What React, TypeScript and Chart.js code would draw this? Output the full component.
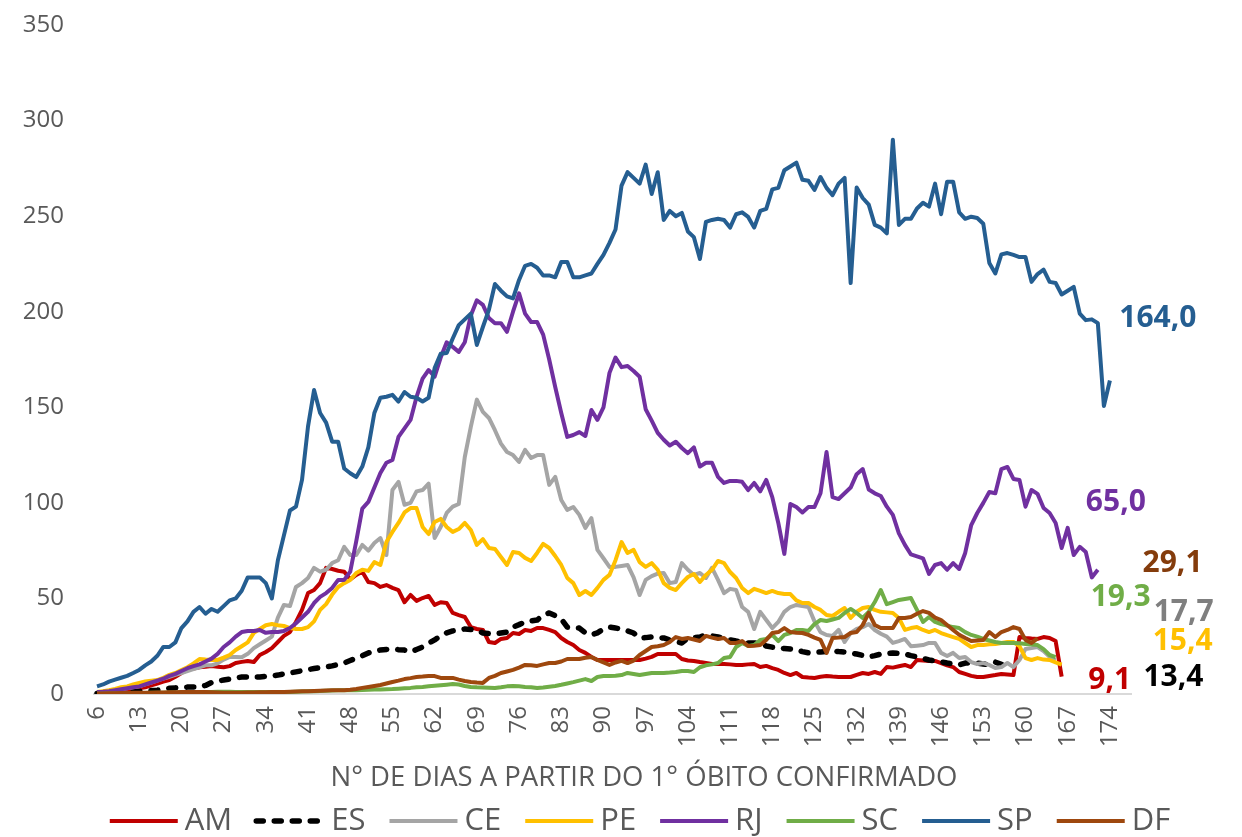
import React, { useEffect, useRef } from "react";
import { Chart, registerables } from "chart.js";

Chart.register(...registerables);

// ---------------- categories / ticks ----------------
const DAYS = [
  6, 7, 8, 9, 10, 11, 12, 13, 14, 15,
  16, 17, 18, 19, 20, 21, 22, 23, 24, 25,
  26, 27, 28, 29, 30, 31, 32, 33, 34, 35,
  36, 37, 38, 39, 40, 41, 42, 43, 44, 45,
  46, 47, 48, 49, 50, 51, 52, 53, 54, 55,
  56, 57, 58, 59, 60, 61, 62, 63, 64, 65,
  66, 67, 68, 69, 70, 71, 72, 73, 74, 75,
  76, 77, 78, 79, 80, 81, 82, 83, 84, 85,
  86, 87, 88, 89, 90, 91, 92, 93, 94, 95,
  96, 97, 98, 99, 100, 101, 102, 103, 104, 105,
  106, 107, 108, 109, 110, 111, 112, 113, 114, 115,
  116, 117, 118, 119, 120, 121, 122, 123, 124, 125,
  126, 127, 128, 129, 130, 131, 132, 133, 134, 135,
  136, 137, 138, 139, 140, 141, 142, 143, 144, 145,
  146, 147, 148, 149, 150, 151, 152, 153, 154, 155,
  156, 157, 158, 159, 160, 161, 162, 163, 164, 165,
  166, 167, 168, 169, 170, 171, 172, 173, 174, 175,
  176, 177,
];
const TICK_DAYS = [6, 13, 20, 27, 34, 41, 48, 55, 62, 69, 76, 83, 90, 97, 104, 111, 118, 125, 132, 139, 146, 153, 160, 167, 174];
const Y_MIN = 0;
const Y_MAX = 350;
const Y_STEP = 50;

// ---------------- series (values from day 6) ----------------
const AM = [
  0.5, 0.7, 1, 1.2, 1.5, 2, 2.5, 3, 3.5, 4.5,
  5.5, 6.5, 7.3, 9, 11, 12.6, 13.3, 14, 14.3, 14.6,
  14.3, 14, 14.6, 16.2, 16.8, 17.3, 16.7, 20.4, 22, 24,
  27.2, 30.4, 32.4, 37.7, 44, 52.8, 54.4, 58, 66, 65.4,
  64.5, 64, 60, 62.3, 64, 58.6, 58, 56, 57, 55.5,
  54.4, 48, 51.8, 48.7, 50.2, 51.3, 46.6, 48, 47.6, 42.4,
  41.3, 40.3, 35, 34, 33.5, 27.2, 26.7, 28.8, 29.3, 31.9,
  31.4, 33.5, 33, 34.5, 34.5, 33.5, 32.4, 29.3, 27.2, 25.6,
  23, 21.5, 19.4, 17.8, 17.8, 17.8, 17.8, 17.8, 17.8, 17.8,
  17.8, 18.5, 19.4, 20.9, 20.9, 20.9, 20.9, 18.3, 17.5, 17.3,
  16.7, 16.2, 15.7, 15.7, 15.7, 15.5, 15.2, 15.2, 15.5, 15.7,
  14.1, 14.7, 13.5, 12.6, 11, 9.9, 11, 8.9, 8.6, 8.4,
  9, 9.4, 9.1, 8.9, 8.9, 8.9, 10, 11, 10.5, 11.5,
  10.5, 14.1, 13.8, 14.5, 15.2, 14.1, 17.8, 17.5, 17.3, 17.3,
  16.2, 15, 14.1, 11.5, 10.5, 9.5, 8.9, 8.9, 9.4, 9.9,
  10.5, 10.2, 9.9, 29.8, 29.3, 29, 28.8, 29.8, 29.3, 27.7,
  9.1,
];

const ES = [
  0.3, 0.4, 0.5, 0.6, 0.8, 1, 1.2, 1.4, 1.6, 1.8,
  2, 2.5, 3, 3.2, 3.4, 3.6, 3.7, 3.7, 4.5, 6,
  6.8, 7.3, 7.8, 8.4, 8.9, 8.9, 8.9, 8.9, 9.2, 9.5,
  9.9, 10.5, 11, 11.6, 12.2, 12.8, 13.3, 13.8, 14.2, 14.7,
  15.5, 16.2, 17.5, 18.8, 20, 21.5, 22.3, 23, 23.3, 23.5,
  23.2, 23, 22, 23.3, 24.6, 26.5, 28.3, 30.5, 32, 33,
  33.5, 34, 33.8, 33.5, 31.9, 31.6, 31.4, 31.9, 32.4, 35,
  36.3, 37.7, 38.2, 38.7, 41.3, 42.4, 41, 39.2, 35, 34.7,
  34.5, 32, 30.9, 32, 34, 35, 34.5, 34, 33, 31.9,
  29.3, 29.5, 29.8, 29.5, 29.3, 28.3, 27.5, 26.7, 29.3, 29.5,
  29.8, 30.9, 30.4, 29.8, 29, 28.3, 27.7, 27.2, 26.7, 26.7,
  26.7, 25.1, 24.5, 24, 23.8, 23.5, 23, 22.2, 21.5, 21.7,
  22, 22.3, 22.5, 22.2, 22, 21.5, 20.9, 20.2, 19.4, 20.1,
  20.9, 21.2, 21.5, 21.2, 20.9, 20.1, 19.4, 18.6, 17.8, 17.3,
  16.8, 16.2, 15.7, 15.2, 16.2, 16.2, 16.2, 15.7, 15.2, 16.7,
  15.5, 13.4,
];

const CE = [
  1, 1.2, 1.5, 2, 2.5, 3, 3.5, 4, 5, 6,
  7, 8, 9, 10, 11, 12, 13, 14, 15, 15,
  16, 18, 19.4, 19.4, 19.2, 21, 24, 26, 28, 30,
  40, 46.6, 46, 56, 58, 60.7, 66, 64, 65, 68.5,
  70, 77, 72.7, 72.7, 78, 75, 79, 81.6, 72.7, 106.7,
  111, 99, 100, 106, 106.7, 110, 81.6, 87.4, 94.7, 98,
  99.4, 124, 139.7, 154, 147.6, 144.4, 138, 131, 126.6, 125,
  121.4, 127.7, 123.5, 125, 125, 109.4, 113.6, 101.5, 96.3, 97.8,
  93.7, 86.9, 92, 75.4, 71, 66.5, 66.5, 67, 67.5, 61,
  51.8, 59.7, 61.7, 63, 63.3, 58, 58.6, 68.5, 65, 62.3,
  63.3, 60.7, 66, 59.7, 52.8, 55, 54.4, 45.5, 43, 34,
  43, 38.7, 34.5, 37.7, 43, 45.5, 46.6, 46, 45.5, 38,
  32.4, 30.9, 30.4, 33.5, 27.2, 32, 34, 35, 36.6, 33.5,
  31.5, 30, 26.7, 27.7, 28.8, 25, 25.3, 25.6, 26.7, 26.7,
  21.5, 19.9, 21.5, 18.8, 19.4, 16.7, 15.7, 16.2, 15.2, 13.6,
  14.1, 16.2, 14.1, 17.8, 23.5, 24, 24.6, 22.5, 19.4, 17.7,
];

const PE = [
  1, 1.5, 2, 2.7, 3.5, 4, 5, 5.8, 6.5, 7,
  7.3, 8.5, 10, 11, 12.5, 14, 16, 18.3, 18, 17.8,
  17.8, 19, 20.4, 23, 25, 27, 32, 34, 36, 36.6,
  36, 35.6, 34.5, 34, 34, 35, 38, 44, 47, 52,
  56, 58, 59.7, 63.3, 65, 64.4, 69, 67.5, 79.5, 84.8,
  89.5, 95, 97.3, 97.3, 87.4, 83.7, 90, 91.6, 87.4, 84.8,
  86.3, 89.5, 85.8, 78, 81, 76.4, 75.9, 71.7, 67.5, 74.3,
  73.8, 71.2, 69.6, 73.8, 78.5, 76.4, 72.2, 67.5, 60.7, 58,
  51.8, 53.9, 51.8, 55.5, 59.7, 62.3, 70, 79.5, 73.8, 75.4,
  69, 66.5, 68.5, 65, 58, 55.5, 54.4, 58, 61.2, 62.8,
  58.6, 62.3, 65, 69.6, 68.5, 63.8, 60.7, 55.5, 52.8, 55,
  53.9, 52.8, 53.9, 52.8, 52.3, 52.3, 49, 47.6, 47.6, 45.5,
  44, 41.3, 40.8, 43, 45, 39.8, 43, 45, 45.5, 44,
  43, 42.7, 42.4, 39.8, 33.5, 34.5, 35, 33.5, 32.4, 33.5,
  31.9, 30.8, 29.8, 28.8, 26.7, 24.6, 25.6, 25.6, 26, 26.2,
  26.7, 27.2, 27.2, 25, 18.8, 17.8, 18.8, 18, 17.8, 16.5,
  15.4,
];

const RJ = [
  1, 1.2, 1.5, 2, 2.5, 3, 3.5, 4, 5, 6,
  7, 8, 9.5, 10.5, 12, 13.5, 14.6, 15.5, 17, 18.5,
  21, 24.6, 27, 30, 32.4, 33, 33, 33.5, 32, 32.4,
  32.4, 33, 34.5, 37, 40, 43, 47.6, 50.8, 52.8, 55.5,
  59.7, 59.7, 64, 80, 97, 100.5, 108, 115.6, 121, 122.4,
  134.5, 139, 143.4, 155.4, 165, 169.5, 166, 176, 184, 181.6,
  179, 184, 198, 206, 203.6, 196.7, 194, 194, 189.5, 200,
  209.6, 199, 194.6, 194.6, 188, 175, 160.6, 147, 134.5, 135.5,
  137, 135, 148.6, 143.4, 150, 168, 176, 171, 171.6, 169,
  166, 149, 143, 136.6, 133, 130, 132, 128.7, 126, 129,
  119, 121, 121, 113.6, 110.4, 111.5, 111.5, 111, 106.7, 110.4,
  106, 112, 103, 89.5, 73.3, 99.4, 97.8, 95, 97.8, 97.8,
  105, 126.6, 103, 102, 105, 108, 115, 117.7, 107, 105,
  103.6, 98, 93.7, 84, 78, 73, 72, 71, 62.8, 67.5,
  68.5, 65, 68.5, 65.4, 73.8, 88.4, 94.7, 100, 105.7, 105,
  117.7, 118.8, 112.5, 112, 98, 106.7, 104.7, 97.3, 94.7, 89.5,
  76.4, 86.9, 72.7, 77, 74.3, 61, 65,
];

const SC = [
  0.1, 0.1, 0.2, 0.2, 0.3, 0.3, 0.4, 0.5, 0.5, 0.6,
  0.6, 0.7, 0.8, 0.8, 0.9, 1, 1, 1, 1.1, 1.1,
  1.2, 1.2, 1.2, 1.1, 1, 1, 1, 1, 1, 1,
  1, 1, 1.1, 1.2, 1.3, 1.4, 1.5, 1.6, 1.7, 1.8,
  1.9, 2, 2, 2, 2.1, 2.2, 2.3, 2.4, 2.5, 2.6,
  2.8, 3, 3.2, 3.5, 3.7, 4, 4.3, 4.6, 4.9, 5.2,
  5, 4.2, 3.7, 3.5, 3.4, 3.3, 3.1, 3.5, 4, 4.2,
  4, 3.7, 3.5, 3.1, 3.4, 3.8, 4.2, 4.8, 5.5, 6.2,
  7, 7.8, 6.8, 8.9, 9.4, 9.4, 9.5, 9.9, 11, 10.5,
  9.9, 10.5, 11, 11, 11, 11.2, 11.5, 12, 12, 11.5,
  14, 15, 15.5, 16.2, 18.8, 19.4, 24.6, 26.7, 25.1, 25.6,
  28.3, 28.8, 30.9, 27.7, 30.9, 31.9, 33.5, 33.5, 33, 36.6,
  38.7, 38.2, 39, 39.8, 42.4, 44.5, 42.4, 39.8, 43, 48.1,
  54.4, 47, 48.1, 49.2, 49.7, 50.2, 44, 37.7, 40.3, 37.7,
  36.6, 35.8, 35, 34.5, 32.4, 30.9, 30, 28.8, 28, 27.2,
  26.7, 26.7, 26.7, 26.5, 26.2, 25.9, 25.6, 23.5, 20.4, 19.3,
];

const SP = [
  4, 5, 6.5, 7.5, 8.5, 9.5, 11, 12.6, 15, 17,
  20, 24.6, 24.6, 27, 34.5, 38, 43, 45.5, 42, 44.5,
  43, 46, 49, 50, 54, 61, 61, 61, 58, 50,
  70, 83, 96, 98, 112, 140, 159, 147, 142, 132,
  132, 118, 115.5, 113.5, 119, 129, 147, 155, 155.5, 156.5,
  153, 158, 155.5, 155, 153, 155, 170.5, 178, 178.4, 186,
  193, 196, 199, 182.6, 192, 201, 214.5, 211, 208, 207,
  216.6, 224, 225, 223, 219, 219, 218, 226, 226, 218,
  218, 219, 220, 225, 229.7, 236, 243, 266, 273, 270,
  267, 277, 261.6, 273, 248, 252.7, 250, 251.7, 242, 239,
  227.6, 247, 248, 248.6, 248, 244, 251, 252, 249.6, 244,
  252.7, 253.8, 264, 264.8, 274, 276, 278, 269, 268.5, 263.7,
  270.5, 264.8, 261, 267, 270, 215, 265, 259.5, 256, 245.4,
  244, 241, 290, 245.4, 248.6, 248.6, 254, 257, 255, 267,
  251, 268, 268, 252, 248.6, 249.7, 249, 246, 225.5, 220,
  230, 230.7, 229.7, 228.6, 228.6, 215.6, 219.7, 222, 215.6, 215,
  209, 211, 213, 199, 195.6, 196, 194, 150.7, 164,
];

const DF = [
  0.3, 0.3, 0.4, 0.4, 0.5, 0.5, 0.6, 0.6, 0.7, 0.7,
  0.8, 0.8, 0.9, 0.9, 1, 1, 1, 1, 1, 0.9,
  0.8, 0.7, 0.7, 0.7, 0.7, 0.8, 0.8, 0.9, 0.9, 1,
  1, 1.1, 1.2, 1.3, 1.4, 1.5, 1.6, 1.7, 1.8, 1.9,
  2, 2, 2.2, 2.6, 3.2, 3.7, 4.2, 4.7, 5.5, 6.3,
  7, 7.8, 8.3, 8.9, 9.1, 9.4, 9.4, 8.4, 8.4, 8.4,
  7.5, 6.8, 6.3, 6, 5.8, 8.4, 9.5, 11, 11.8, 12.6,
  13.8, 15.2, 15, 14.7, 15.5, 16.2, 16.2, 17, 18.3, 18.3,
  18.3, 19, 19.4, 17.8, 16.5, 15.2, 16.5, 17.3, 16.2, 17.5,
  20.4, 22.5, 24.6, 25, 25.6, 27.2, 29.8, 28.8, 29.3, 28.5,
  27.7, 30.4, 29.5, 28.8, 29.3, 26.7, 26.7, 27.7, 25.1, 25.3,
  25.6, 28.3, 31.9, 32.4, 34.5, 32.4, 32, 31.9, 30.9, 29.5,
  28.3, 21.5, 29.3, 29.5, 29.8, 31.9, 32.4, 36.1, 42.4, 36.1,
  34.5, 34.5, 34.5, 39.8, 39.8, 40.3, 42, 43.4, 42.4, 40,
  38.7, 36.1, 33.5, 31, 29.3, 27.7, 28, 28.3, 32.4, 29.8,
  32.4, 33.5, 35, 34, 28.3, 26.7, 29.1,
];

// ---------------- styles ----------------
const SERIES = [
  { label: "AM", data: AM, color: "#C00000", labelColor: "#C00000", width: 4, dash: [] as number[], cap: "butt", labelOffset: [48, 4] },
  { label: "ES", data: ES, color: "#000000", labelColor: "#000000", width: 5.5, dash: [7, 11], cap: "round", labelOffset: [166, 9] },
  { label: "CE", data: CE, color: "#A5A5A5", labelColor: "#7F7F7F", width: 4, dash: [] as number[], cap: "butt", labelOffset: [128, -48] },
  { label: "PE", data: PE, color: "#FFC000", labelColor: "#FFC000", width: 4, dash: [] as number[], cap: "butt", labelOffset: [121, -23] },
  { label: "RJ", data: RJ, color: "#7030A0", labelColor: "#7030A0", width: 4, dash: [] as number[], cap: "butt", labelOffset: [18, -67] },
  { label: "SC", data: SC, color: "#70AD47", labelColor: "#70AD47", width: 4, dash: [] as number[], cap: "butt", labelOffset: [65, -60] },
  { label: "SP", data: SP, color: "#255E91", labelColor: "#255E91", width: 4, dash: [] as number[], cap: "butt", labelOffset: [48, -62] },
  { label: "DF", data: DF, color: "#9E480E", labelColor: "#843C0C", width: 4, dash: [] as number[], cap: "butt", labelOffset: [135, -75] },
];

const X_TITLE = "N° DE DIAS A PARTIR DO 1° ÓBITO CONFIRMADO";
const FONT = "'Open Sans', sans-serif";
const TICK_FONT = { family: FONT, size: 24 };
const AXIS_COLOR = "#595959";
const LEGEND = { size: 31, line: 68, gap: 7, spacing: 24, cx: 640, cy: 821 };
const TITLE_POS = { dx: 31.5, dy: 84, size: 27.5 };
const PLOT = { left: 94, right: 1131, top: 25, bottom: 694, width: 1242, height: 837 };

const endLabelPlugin = {
  id: "endLabels",
  afterDatasetsDraw(chart: any) {
    const ctx = chart.ctx;
    ctx.save();
    ctx.font = `bold 30px ${FONT}`;
    ctx.textAlign = "center";
    ctx.textBaseline = "middle";
    SERIES.forEach((s, i) => {
      const meta = chart.getDatasetMeta(i);
      const last = s.data.length - 1;
      const pt = meta.data[last];
      if (!pt) return;
      const text = s.data[last].toFixed(1).replace(".", ",");
      ctx.fillStyle = s.labelColor;
      ctx.fillText(text, pt.x + s.labelOffset[0], pt.y + s.labelOffset[1]);
    });
    ctx.restore();
  },
};

const xTitlePlugin = {
  id: "xTitle",
  afterDraw(chart: any) {
    const { ctx, chartArea } = chart;
    ctx.save();
    ctx.font = `${TITLE_POS.size}px ${FONT}`;
    ctx.fillStyle = AXIS_COLOR;
    ctx.textAlign = "center";
    ctx.textBaseline = "middle";
    ctx.fillText(X_TITLE, (chartArea.left + chartArea.right) / 2 + TITLE_POS.dx, chartArea.bottom + TITLE_POS.dy);
    ctx.restore();
  },
};

const legendPlugin = {
  id: "lineLegend",
  afterDraw(chart: any) {
    const ctx = chart.ctx;
    const sets = chart.data.datasets;
    ctx.save();
    ctx.font = `${LEGEND.size}px ${FONT}`;
    const widths = sets.map((d: any) => ctx.measureText(d.label).width);
    const total =
      widths.reduce((a: number, w: number) => a + LEGEND.line + LEGEND.gap + w, 0) + LEGEND.spacing * (sets.length - 1);
    let x = LEGEND.cx - total / 2;
    const y = LEGEND.cy;
    sets.forEach((d: any, i: number) => {
      ctx.beginPath();
      ctx.strokeStyle = d.borderColor;
      ctx.lineWidth = d.borderWidth;
      ctx.setLineDash(d.borderDash || []);
      ctx.lineCap = d.borderCapStyle || "butt";
      ctx.moveTo(x, y);
      ctx.lineTo(x + LEGEND.line, y);
      ctx.stroke();
      ctx.setLineDash([]);
      ctx.fillStyle = AXIS_COLOR;
      ctx.textAlign = "left";
      ctx.textBaseline = "middle";
      ctx.fillText(d.label, x + LEGEND.line + LEGEND.gap, y);
      x += LEGEND.line + LEGEND.gap + widths[i] + LEGEND.spacing;
    });
    ctx.restore();
  },
};

export default function App() {
  const canvasRef = useRef<HTMLCanvasElement | null>(null);

  useEffect(() => {
    if (!canvasRef.current) return;

    const chart = new Chart(canvasRef.current, {
      type: "line",
      data: {
        labels: DAYS,
        datasets: SERIES.map((s, i) => ({
          label: s.label,
          data: s.data,
          borderColor: s.color,
          backgroundColor: s.color,
          borderWidth: s.width,
          borderDash: s.dash,
          borderCapStyle: s.cap as any,
          borderJoinStyle: "round" as any,
          pointRadius: 0,
          pointHoverRadius: 0,
          tension: 0,
          fill: false,
          order: SERIES.length - i,
        })),
      },
      options: {
        animation: false,
        responsive: true,
        maintainAspectRatio: false,
        devicePixelRatio: 1,
        layout: { padding: { left: 0, right: PLOT.width - PLOT.right, top: PLOT.top, bottom: 0 } },
        plugins: {
          tooltip: { enabled: false },
          title: { display: false },
          legend: { display: false },
        },
        scales: {
          x: {
            type: "category",
            offset: true,
            grid: { display: false, drawTicks: false },
            border: { display: true, color: "#D9D9D9", width: 2 },
            ticks: {
              autoSkip: false,
              minRotation: 90,
              maxRotation: 90,
              padding: 12,
              color: AXIS_COLOR,
              font: TICK_FONT,
              callback: (_v: any, idx: number) => (TICK_DAYS.includes(DAYS[idx]) ? String(DAYS[idx]) : ""),
            },
            afterFit: (scale: any) => {
              scale.height = PLOT.height - PLOT.bottom;
              scale.paddingLeft = 0;
              scale.paddingRight = 0;
            },
          },
          y: {
            min: Y_MIN,
            max: Y_MAX,
            grid: { display: false, drawTicks: false },
            border: { display: false },
            ticks: { stepSize: Y_STEP, padding: 30, color: AXIS_COLOR, font: TICK_FONT },
            afterFit: (scale: any) => {
              scale.width = PLOT.left;
              scale.paddingTop = 0;
              scale.paddingBottom = 0;
            },
          },
        },
      },
      plugins: [endLabelPlugin, xTitlePlugin, legendPlugin],
    });
    return () => chart.destroy();
  }, []);

  return (
    <div style={{ position: "absolute", left: 0, top: 0, width: PLOT.width, height: PLOT.height, background: "#fff" }}>
      <canvas ref={canvasRef} />
    </div>
  );
}
